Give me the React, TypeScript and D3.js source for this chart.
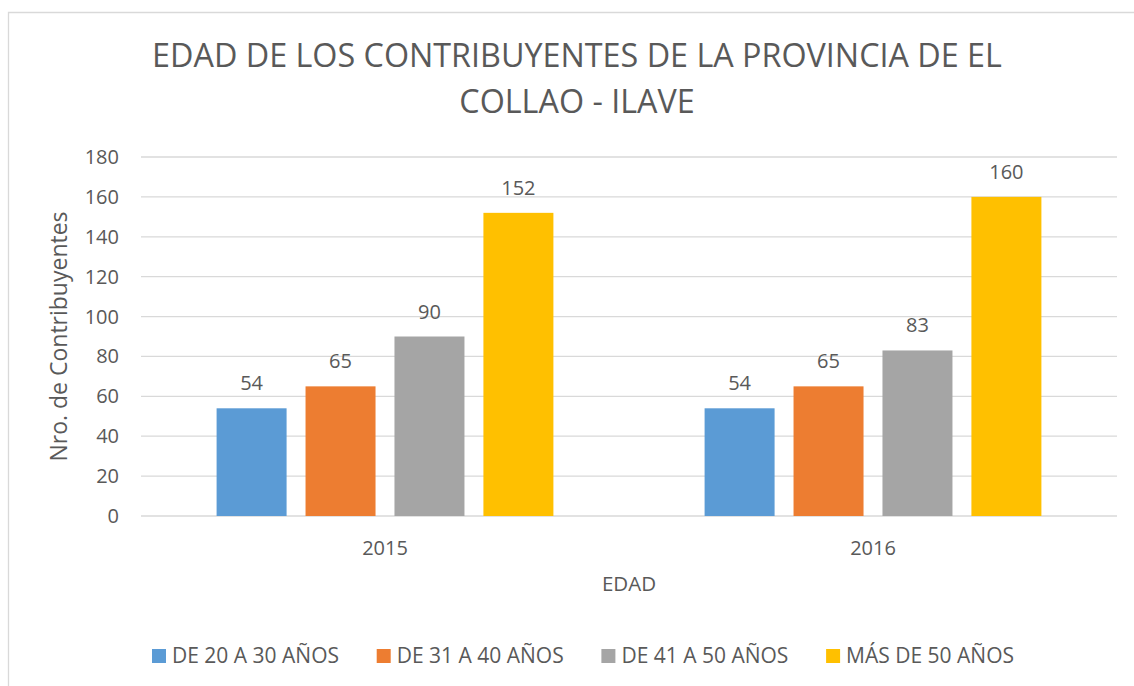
import * as d3 from 'd3';

const years = ['2015', '2016'];
const series = ['DE 20 A 30 AÑOS', 'DE 31 A 40 AÑOS', 'DE 41 A 50 AÑOS', 'MÁS DE 50 AÑOS'];
const colors = ['#5b9bd5', '#ed7d31', '#a5a5a5', '#ffc000'];
const values2015 = [54, 65, 90, 152];
const values2016 = [54, 65, 83, 160];
const yTicks = [0, 20, 40, 60, 80, 100, 120, 140, 160, 180];
const titleLines = ['EDAD DE LOS CONTRIBUYENTES DE LA PROVINCIA DE EL', 'COLLAO - ILAVE'];

const font = '"Open Sans", sans-serif';
const textColor = '#595959';

export default function App() {
  const width = 1134;
  const height = 686;
  const marginLeft = 141;
  const marginRight = 17;
  const marginTop = 157;
  const plotBottom = 516;

  const table = years.map((yr, i) => ({
    year: yr,
    values: (i === 0 ? values2015 : values2016).map((v, j) => ({ name: series[j], value: v, color: colors[j] })),
  }));

  const x0 = d3.scaleBand().domain(years).range([marginLeft, width - marginRight]).padding(0);
  const x1 = d3.scaleBand().domain(series).range([0, x0.bandwidth()]).paddingInner(0.213).paddingOuter(0.85);
  const y = d3.scaleLinear().domain([0, 180]).range([plotBottom, marginTop]);

  // legend entries sit on an even step along the bottom
  const legend = d3.scaleBand().domain(series).range([152, 152 + 224.7 * 4]);

  return (
    <svg width={width} height={height} style={{ display: 'block', position: 'absolute', left: 0, top: 0 }} fontFamily={font}>
      <rect x={0} y={0} width={width} height={height} fill="#fff" />
      <path d={`M8.5,${height} V12.5 H${width}`} fill="none" stroke="#d9d9d9" strokeWidth={1.3} />

      {titleLines.map((t, i) => (
        <text key={t} x={577} y={67 + i * 46} textAnchor="middle" fontSize={32.3} fill={textColor}>{t}</text>
      ))}

      {yTicks.map(t => (
        <g key={t}>
          <line x1={marginLeft} x2={width - marginRight} y1={y(t)} y2={y(t)} stroke="#d9d9d9" strokeWidth={1.3} />
          <text x={119} y={y(t)} dy="0.35em" textAnchor="end" fontSize={20} fill={textColor}>{t}</text>
        </g>
      ))}

      {table.map(g => (
        <g key={g.year} transform={`translate(${x0(g.year)},0)`}>
          {g.values.map(d => (
            <g key={d.name}>
              <rect x={x1(d.name)} y={y(d.value)} width={x1.bandwidth()} height={y(0) - y(d.value)} fill={d.color} />
              <text x={(x1(d.name) as number) + x1.bandwidth() / 2} y={y(d.value) - 18} textAnchor="middle" fontSize={20} fill={textColor}>{d.value}</text>
            </g>
          ))}
          <text x={x0.bandwidth() / 2} y={555} textAnchor="middle" fontSize={20} fill={textColor}>{g.year}</text>
        </g>
      ))}

      <text x={(marginLeft + width - marginRight) / 2} y={591} textAnchor="middle" fontSize={20.5} fill={textColor}>EDAD</text>
      <text transform={`translate(67,${(marginTop + plotBottom) / 2}) rotate(-90)`} textAnchor="middle" fontSize={23} fill={textColor}>Nro. de Contribuyentes</text>

      {series.map((s, i) => (
        <g key={s} transform={`translate(${legend(s)},649)`}>
          <rect x={0} y={0} width={14} height={14} fill={colors[i]} />
          <text x={20} y={7} dy="0.35em" fontSize={21} fill={textColor}>{s}</text>
        </g>
      ))}
    </svg>
  );
}
